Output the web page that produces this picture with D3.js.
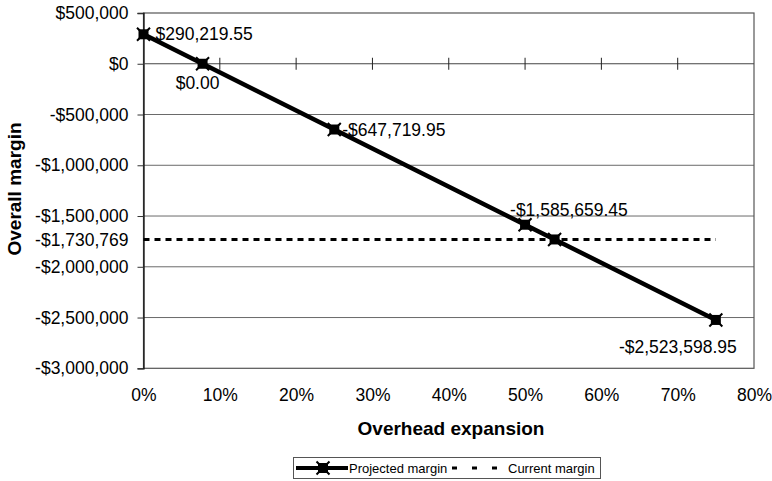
<!DOCTYPE html>
<html>
<head>
<meta charset="utf-8">
<script src="https://cdn.jsdelivr.net/npm/d3@7"></script>
<style>
  html, body { margin: 0; padding: 0; background: #fff; }
  svg { display: block; }
  text { font-family: Arial, "Liberation Sans", Helvetica, sans-serif; fill: #000; }
</style>
</head>
<body>
<svg id="chart" width="772" height="481"></svg>
<script>
// ---- data ----
const overhead = [0, 0.0774, 0.25, 0.5, 0.5387, 0.75];
const projected = [290219.55, 0, -647719.95, -1585659.45, -1730769, -2523598.95];
const labelled = [true, true, true, true, false, true];
const currentMargin = -1730769;
const currentRange = [0, 0.75];
const yTicks = [500000, 0, -500000, -1000000, -1500000, -2000000, -2500000, -3000000];
const xTicks = [0, 0.1, 0.2, 0.3, 0.4, 0.5, 0.6, 0.7, 0.8];
const seriesNames = ["Projected margin", "Current margin"];
const xTitle = "Overhead expansion";
const yTitle = "Overall margin";

// ---- layout ----
const svg = d3.select("#chart");
const L = 143.5, R = 754, T = 13, B = 368.3;
const x = d3.scaleLinear().domain([0, 0.8]).range([L, R]);
const y = d3.scaleLinear().domain([-3000000, 500000]).range([B, T]);

const loc = d3.formatLocale({decimal: ".", thousands: ",", grouping: [3], currency: ["$", ""], minus: "-"});
const fmtTick = loc.format("$,.0f");
const fmtLabel = loc.format("$,.2f");
const fmtPct = d3.format(".0%");

// gridlines
svg.append("g").selectAll("line")
  .data(yTicks.filter(v => v !== 0 && v !== 500000 && v !== -3000000))
  .join("line")
  .attr("x1", L).attr("x2", R)
  .attr("y1", d => y(d)).attr("y2", d => y(d))
  .attr("stroke", "#6a6a6a").attr("stroke-width", 1);

// plot border
svg.append("rect")
  .attr("x", L).attr("y", T).attr("width", R - L).attr("height", B - T)
  .attr("fill", "none").attr("stroke", "#555").attr("stroke-width", 1.2);

// y axis
const yAxis = d3.axisLeft(y).tickValues(yTicks).tickFormat(fmtTick).tickSize(6).tickPadding(9);
const gy = svg.append("g").attr("transform", `translate(${L},0)`).call(yAxis);
gy.select(".domain").attr("stroke", "#111").attr("stroke-width", 1.3);
gy.selectAll(".tick line").attr("stroke", "#333");
gy.selectAll(".tick text").style("font-size", "17.5px").attr("fill", "#000")
  .style("font-family", "Arial, 'Liberation Sans', sans-serif");

// extra label for current margin
svg.append("text")
  .attr("x", L - 15).attr("y", y(currentMargin)).attr("dy", "0.35em")
  .attr("text-anchor", "end").style("font-size", "17.5px")
  .text(fmtTick(currentMargin));

// x axis line at $0 with crossing ticks
const gx0 = svg.append("g").attr("transform", `translate(0,${y(0)})`);
gx0.append("line").attr("x1", L).attr("x2", R).attr("stroke", "#444").attr("stroke-width", 1.2);
gx0.selectAll("line.tk").data(xTicks.slice(1, -1)).join("line").attr("class", "tk")
  .attr("x1", d => x(d)).attr("x2", d => x(d)).attr("y1", -6).attr("y2", 6)
  .attr("stroke", "#222").attr("stroke-width", 1);

// x tick labels at bottom
const xAxis = d3.axisBottom(x).tickValues(xTicks).tickFormat(fmtPct).tickSize(0).tickPadding(20);
const gx = svg.append("g").attr("transform", `translate(0,${B})`).call(xAxis);
gx.select(".domain").remove();
gx.selectAll(".tick text").style("font-size", "17.5px").attr("fill", "#000")
  .style("font-family", "Arial, 'Liberation Sans', sans-serif");

// axis titles
svg.append("text").attr("x", 451).attr("y", 435).attr("text-anchor", "middle")
  .style("font-size", "19px").style("font-weight", "bold").text(xTitle);
svg.append("text").attr("transform", "translate(21,189) rotate(-90)").attr("text-anchor", "middle")
  .style("font-size", "19px").style("font-weight", "bold").text(yTitle);

// current margin dashed line
svg.append("line")
  .attr("x1", x(currentRange[0])).attr("x2", x(currentRange[1]))
  .attr("y1", y(currentMargin)).attr("y2", y(currentMargin))
  .attr("stroke", "#000").attr("stroke-width", 3).attr("stroke-dasharray", "6,5");

// projected line
const pts = overhead.map((o, i) => ({x: o, y: projected[i], show: labelled[i]}));
svg.append("path").datum(pts)
  .attr("d", d3.line().x(d => x(d.x)).y(d => y(d.y)))
  .attr("fill", "none").attr("stroke", "#000").attr("stroke-width", 4.5);

function marker(g, cx, cy) {
  g.append("rect").attr("x", cx - 5).attr("y", cy - 5).attr("width", 10).attr("height", 10).attr("fill", "#000");
  g.append("path").attr("d", `M${cx-6.5},${cy-6.5}L${cx+6.5},${cy+6.5}M${cx-6.5},${cy+6.5}L${cx+6.5},${cy-6.5}`)
    .attr("stroke", "#000").attr("stroke-width", 2);
}
const mg = svg.append("g");
pts.forEach(p => marker(mg, x(p.x), y(p.y)));

// data labels (placement is styling)
const place = [
  {dx: 12, dy: 6, anchor: "start"},
  {dx: -5, dy: 25, anchor: "middle"},
  {dx: 8, dy: 6, anchor: "start"},
  {dx: -15, dy: -9, anchor: "start"},
  null,
  {dx: -38, dy: 33, anchor: "middle"}
];
pts.forEach((p, i) => {
  if (!p.show) return;
  const pl = place[i];
  svg.append("text")
    .attr("x", x(p.x) + pl.dx).attr("y", y(p.y) + pl.dy)
    .attr("text-anchor", pl.anchor).style("font-size", "17.5px")
    .text(fmtLabel(p.y));
});

// legend
const lg = svg.append("g");
lg.append("rect").attr("x", 293.5).attr("y", 457.5).attr("width", 307).attr("height", 21)
  .attr("fill", "#fff").attr("stroke", "#555").attr("stroke-width", 1);
lg.append("line").attr("x1", 296).attr("x2", 348).attr("y1", 468).attr("y2", 468)
  .attr("stroke", "#000").attr("stroke-width", 4);
marker(lg, 323, 468);
lg.append("text").attr("x", 349).attr("y", 473).style("font-size", "13px").text(seriesNames[0]);
lg.append("line").attr("x1", 452).attr("x2", 498).attr("y1", 468).attr("y2", 468)
  .attr("stroke", "#000").attr("stroke-width", 3).attr("stroke-dasharray", "5,15");
lg.append("text").attr("x", 508).attr("y", 473).style("font-size", "13px").text(seriesNames[1]);
</script>
</body>
</html>
